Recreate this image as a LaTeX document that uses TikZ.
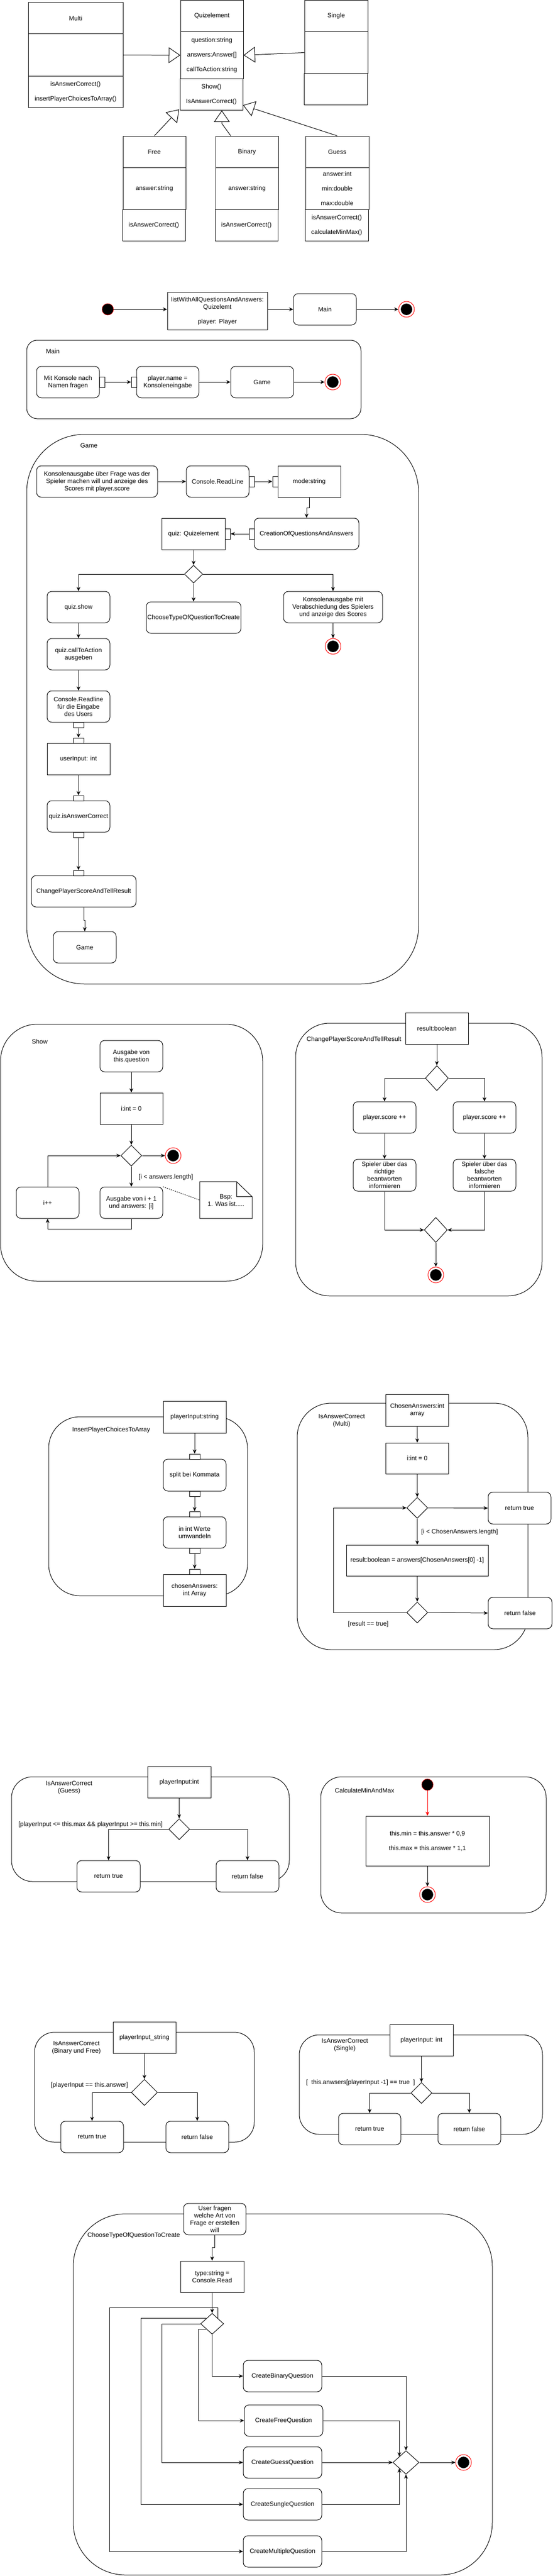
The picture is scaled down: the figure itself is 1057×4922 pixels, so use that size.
\documentclass[tikz,border=0pt]{standalone}
\usepackage{fontspec}
\setmainfont{Liberation Sans}
\usetikzlibrary{arrows.meta,shapes.geometric,calc}
\newcommand\dfont{\fontsize{12}{14}\selectfont}
\tikzset{
  every node/.style={font=\dfont, inner sep=0pt, align=center},
  bxbase/.style={draw=black, line width=1pt, fill=white},
  objbox/.style={bxbase},
  actbox/.style={bxbase, rounded corners=9pt},
  pinbox/.style={bxbase, minimum width=10pt, minimum height=20pt},
  pinv/.style={bxbase, minimum width=20pt, minimum height=10pt},
  cont/.style={draw=black, line width=1pt},
  dia/.style={bxbase, shape=diamond, aspect=1},
  arr/.style={line width=1pt, -{Stealth[length=8pt,width=7pt,inset=2.5pt]}},
  ln/.style={line width=1pt},
  inh/.style={line width=1pt, -{Triangle[length=22pt,width=30pt,fill=white]}},
  startst/.style={circle, fill=black, draw=red, line width=0.6pt, minimum size=22pt},
  endo/.style={circle, draw=red, fill=white, line width=1pt, minimum size=30pt},
  endi/.style={circle, fill=black, minimum size=22pt},
  sz/.style 2 args={minimum width=#1pt, minimum height=#2pt},
}
\newcommand\myend[2]{\node[endo] (#1) at (#2) {}; \node[endi] (#1i) at (#2) {};}
\begin{document}
\begin{tikzpicture}[x=1pt,y=-1pt]
\fill[white] (0,0) rectangle (1057,4922);
\useasboundingbox (0,0) rectangle (1057,4922);

% ---------------- class diagram ----------------
\node[objbox, sz={181}{60}] (multiT) at (144.5,35) {Multi};
\node[objbox, sz={181}{80}] (multiA) at (144.5,105) {};
\node[objbox, sz={181}{60}] (multiM) at (144.5,175) {isAnswerCorrect()\\[14pt]insertPlayerChoicesToArray()};
\node[objbox, sz={120}{60}] (quizT) at (405,30.5) {Quizelement};
\node[objbox, sz={120}{90}] (quizA) at (405,105.5) {question:string\\[14pt]answers:Answer[]\\[14pt]callToAction:string};
\node[objbox, sz={120}{60}] (quizM) at (404,180.5) {Show()\\[14pt]IsAnswerCorrect()};
\node[objbox, sz={121}{60}] (singleT) at (642.5,30.5) {Single};
\node[objbox, sz={121}{80}] (singleA) at (642.5,100.5) {};
\node[objbox, sz={121}{60}] (singleM) at (641.5,170.5) {};
\node[objbox, sz={120}{60}] (freeT) at (295,290) {Free};
\node[objbox, sz={120}{80}] (freeA) at (295,360) {answer:string};
\node[objbox, sz={120}{60}] (freeM) at (294,430) {isAnswerCorrect()};
\node[objbox, sz={120}{60}] (binT) at (472,290) {Binary};
\node[objbox, sz={120}{80}] (binA) at (472,360) {answer:string};
\node[objbox, sz={120}{60}] (binM) at (471,430) {isAnswerCorrect()};
\node[objbox, sz={121}{60}] (guessT) at (644.5,290) {Guess};
\node[objbox, sz={121}{80}] (guessA) at (644.5,360) {answer:int\\[14pt]min:double\\[14pt]max:double};
\node[objbox, sz={121}{60}] (guessM) at (643.5,430) {isAnswerCorrect()\\[14pt]calculateMinMax()};
\draw[inh] (multiA.east) -- (quizA.west);
\draw[inh] (singleA.west) -- (quizA.east);
\draw[inh] (freeT.north) -- ([xshift=-1pt,yshift=2pt]quizM.south west);
\draw[inh] ([xshift=-31pt]binT.north) -- ([xshift=20pt,yshift=-25pt]quizM.south) -- ([xshift=20pt]quizM.south);
\draw[inh] (guessT.north) -- ([yshift=10pt]quizM.south east);

% ---------------- top activity ----------------
\node[startst] (st1) at (206,591) {};
\node[objbox, sz={191}{72}] (list) at (415.5,594) {listWithAllQuestionsAndAnswers:\\Quizelemt\\[14pt]player: Player};
\node[actbox, sz={120}{60}] (mainb) at (621,591) {Main};
\myend{end1}{777,591}
\draw[arr] (st1) -- (st1 -| list.west);
\draw[arr] (list.east |- mainb) -- (mainb.west);
\draw[arr] (mainb.east) -- (end1.west);

% ---------------- Main ----------------
\node[cont, rounded corners=20pt, sz={639}{150}] (mainC) at (370.5,725) {};
\node (mainL) at (101,671) {Main};
\node[actbox, sz={120}{60}] (mk) at (130,730) {Mit Konsole nach\\Namen fragen};
\node[actbox, sz={119}{60}] (pn) at (320.5,730) {player.name =\\Konsoleneingabe};
\node[pinbox] (mkp) at (195,730) {};
\node[pinbox] (pnp) at (256,730) {};
\node[actbox, sz={120}{60}] (gm) at (501,730) {Game};
\myend{end2}{636,730}
\draw[arr] (mkp.east) -- (pnp.west);
\draw[arr] (pn.east) -- (gm.west);
\draw[arr] (gm.east) -- (end2.west);

% ---------------- Game ----------------
\node[cont, rounded corners=110pt, sz={749}{1050}] (gameC) at (425.5,1355) {};
\node (gameL) at (170,851) {Game};
\node[actbox, sz={231}{60}] (k1) at (185.5,920) {Konsolenausgabe über Frage was der\\Spieler machen will und anzeige des\\Scores mit player.score};
\node[actbox, sz={120}{60}] (crl) at (416,920) {Console.ReadLine};
\node[pinbox] (crlp) at (481,920) {};
\node[objbox, sz={120}{60}] (ms) at (591,920) {mode:string};
\node[pinbox] (msp) at (526,920) {};
\draw[arr] (k1.east) -- (crl.west);
\draw[arr] (crlp.east) -- (msp.west);
\node[actbox, sz={200}{60}] (coq) at (586,1020) {CreationOfQuestionsAndAnswers};
\node[pinbox] (coqp) at (481,1020) {};
\node[objbox, sz={121}{60}] (qz) at (370,1020) {quiz: Quizelement};
\node[pinbox] (qzp) at (435.5,1020) {};
\draw[arr] (ms.south) -- ++(0,20) -| (coq.north);
\draw[arr] (coqp.west) -- (qzp.east);
\node[dia, sz={35}{34}] (d1) at (370,1097) {};
\draw[arr] (qz.south) -- (d1.north);
\node[actbox, sz={120}{60}] (qs) at (150,1160) {quiz.show};
\node[actbox, sz={181}{60}] (ct) at (370,1180) {ChooseTypeOfQuestionToCreate};
\node[actbox, sz={189}{60}] (kv) at (636.5,1160) {Konsolenausgabe mit\\Verabschiedung des Spielers\\und anzeige des Scores};
\draw[arr] (d1.west) -| (qs.north);
\draw[arr] (d1.east) -| (kv.north);
\draw[arr] (d1.south) -- (ct.north);
\myend{end3}{636.5,1235}
\draw[arr] (kv.south) -- (end3.north);
\node[actbox, sz={120}{60}] (cta) at (150,1250) {quiz.callToAction\\ausgeben};
\draw[arr] (qs.south) -- (cta.north);
\node[actbox, sz={120}{60}] (crd) at (150,1350) {Console.Readline\\für die Eingabe\\des Users};
\draw[arr] (cta.south) -- (crd.north);
\node[pinv] (crdp) at (150,1385) {};
\node[objbox, sz={120}{60}] (ui) at (150,1450) {userInput: int};
\node[pinv] (uip) at (150,1415) {};
\draw[arr] (crdp.south) -- (uip.north);
\node[actbox, sz={120}{60}] (iac) at (150,1560) {quiz.isAnswerCorrect};
\node[pinv] (iacpi) at (150,1525) {};
\node[pinv] (iacpo) at (150,1595) {};
\draw[arr] (ui.south) -- (iacpi.north);
\node[actbox, sz={200}{60}] (cps) at (160,1703) {ChangePlayerScoreAndTellResult};
\node[pinv] (cpsp) at (150,1668) {};
\draw[arr] (iacpo.south) -- (cpsp.north);
\node[actbox, sz={120}{60}] (gm2) at (162,1810) {Game};
\draw[arr] (cps.south) -- ++(0,25) -| (gm2.north);

% ---------------- Show ----------------
\node[cont, rounded corners=70pt, sz={501}{491}] (showC) at (251.5,2202.5) {};
\node (showL) at (76,1990) {Show};
\node[actbox, sz={120}{60}] (av) at (251,2018) {Ausgabe von\\this.question};
\node[objbox, sz={120}{60}] (i0) at (251,2118) {i:int = 0};
\node[dia, sz={40}{40}] (d2) at (251,2208) {};
\myend{end4}{331,2208}
\node[actbox, sz={120}{60}] (aa) at (251,2298) {Ausgabe von i + 1\\und answers: [i]};
\node[actbox, sz={120}{60}] (ipp) at (91,2298) {i++};
\node[anchor=west] (lab1) at (265,2249) {[i < answers.length]};
\draw[arr] (av.south) -- (i0.north);
\draw[arr] (i0.south) -- (d2.north);
\draw[arr] (d2.east) -- (end4.west);
\draw[arr] (d2.south) -- (aa.north);
\draw[arr] (aa.south) -- ++(0,20) -| (ipp.south);
\draw[arr] (ipp.north) |- (d2.west);
\node[sz={100}{70}] (note) at (432,2293) {Bsp:\\1. Was ist.....};
\draw[ln] (note.north west) -- ([xshift=-30pt]note.north east) -- ([yshift=-29pt]note.north east) -- (note.south east) -- (note.south west) -- cycle;
\draw[ln] ([xshift=-30pt]note.north east) -- ++(0,29) -- ++(30,0);
\draw[ln, dash pattern=on 2pt off 2pt] (aa.north east) -- (note.west);

% ---------------- ChangePlayerScoreAndTellResult ----------------
\node[cont, rounded corners=65pt, sz={471}{521}] (chgC) at (800.5,2215.5) {};
\node[anchor=west] (chgL) at (586,1986) {ChangePlayerScoreAndTellResult};
\node[objbox, sz={120}{60}] (rb) at (835,1965) {result:boolean};
\node[dia, sz={44}{48}] (d3) at (835,2060) {};
\node[actbox, sz={120}{60}] (ps1) at (735,2135) {player.score ++};
\node[actbox, sz={120}{60}] (ps2) at (926,2135) {player.score ++};
\node[actbox, sz={120}{61}] (sp1) at (735,2245.5) {Spieler über das\\richtige\\beantworten\\informieren};
\node[actbox, sz={120}{61}] (sp2) at (926,2245.5) {Spieler über das\\falsche\\beantworten\\informieren};
\node[dia, sz={44}{48}] (d4) at (833,2350) {};
\myend{end5}{833,2436}
\draw[arr] (rb.south) -- (d3.north);
\draw[arr] (d3.west) -| (ps1.north);
\draw[arr] (d3.east) -| (ps2.north);
\draw[arr] (ps1.south) -- (sp1.north);
\draw[arr] (ps2.south) -- (sp2.north);
\draw[arr] (sp1.south) |- (d4.west);
\draw[arr] (sp2.south) |- (d4.east);
\draw[arr] (d4.south) -- (end5.north);

% ---------------- InsertPlayerChoicesToArray ----------------
\node[cont, rounded corners=60pt, sz={380}{342}] (insC) at (283,2878) {};
\node[anchor=west] (insL) at (138,2732) {InsertPlayerChoicesToArray};
\node[objbox, sz={120}{61}] (pis) at (372,2707.5) {playerInput:string};
\node[actbox, sz={120}{61}] (sbk) at (372,2818.5) {split bei Kommata};
\node[pinv] (sbkp1) at (372,2783) {};
\node[pinv] (sbkp2) at (372,2854) {};
\node[actbox, sz={120}{60}] (iiw) at (372,2928) {in int Werte\\umwandeln};
\node[pinv] (iiwp1) at (372,2893) {};
\node[pinv] (iiwp2) at (372,2963) {};
\node[objbox, sz={120}{61}] (ca) at (372,3038.5) {chosenAnswers:\\int Array};
\node[pinv] (cap) at (372,3003) {};
\draw[arr] (pis.south) -- (sbkp1.north);
\draw[arr] (sbkp2.south) -- (iiwp1.north);
\draw[arr] (iiwp2.south) -- (cap.north);

% ---------------- IsAnswerCorrect (Multi) ----------------
\node[cont, rounded corners=65pt, sz={441}{471}] (mulC) at (788.5,2916.5) {};
\node (mulL) at (653,2715) {IsAnswerCorrect\\(Multi)};
\node[objbox, sz={120}{61}] (cha) at (797.5,2694.5) {ChosenAnswers:int\\array};
\node[objbox, sz={120}{59}] (mi0) at (797.5,2786.5) {i:int = 0};
\node[dia, sz={40}{40}] (d5) at (797.5,2881) {};
\node[actbox, sz={120}{61}] (rt1) at (993,2881.5) {return true};
\node[objbox, sz={271}{59}] (rbo) at (797.5,2981.5) {result:boolean = answers[ChosenAnswers[0] -1]};
\node[dia, sz={40}{40}] (d6) at (797.5,3081) {};
\node[actbox, sz={122}{60}] (rf1) at (994,3082) {return false};
\node[anchor=west] (lab2) at (805,2927) {[i < ChosenAnswers.length]};
\node[anchor=west] (lab3) at (665,3103) {[result == true]};
\draw[arr] (cha.south) -- (mi0.north);
\draw[arr] (mi0.south) -- (d5.north);
\draw[arr] (d5.east) -- (rt1.west);
\draw[arr] (d5.south) -- (rbo.north);
\draw[arr] (rbo.south) -- (d6.north);
\draw[arr] (d6.east) -- (rf1.west);
\draw[arr] (d6.west) -- ++(-140,0) |- (d5.west);

% ---------------- IsAnswerCorrect (Guess) ----------------
\node[cont, rounded corners=40pt, sz={531}{200}] (gueC) at (287.5,3495) {};
\node (gueL) at (132,3416) {IsAnswerCorrect\\(Guess)};
\node[objbox, sz={121}{60}] (pii) at (342.5,3405) {playerInput:int};
\node[dia, sz={40}{40}] (d7) at (342.5,3495) {};
\node[anchor=east] (lab4) at (311,3486) {[playerInput <= this.max \&\& playerInput >= this.min]};
\node[actbox, sz={121}{60}] (rtg) at (207.5,3585) {return true};
\node[actbox, sz={120}{60}] (rfg) at (473,3585) {return false};
\draw[arr] (pii.south) -- (d7.north);
\draw[arr] (d7.west) -| (rtg.north);
\draw[arr] (d7.east) -| (rfg.north);

% ---------------- CalculateMinAndMax ----------------
\node[cont, rounded corners=40pt, sz={431}{260}] (calC) at (828.5,3525) {};
\node[anchor=west] (calL) at (640,3421) {CalculateMinAndMax};
\node[startst] (st2) at (817,3410) {};
\node[objbox, sz={236}{95}] (cmb) at (817,3517.5) {this.min = this.answer * 0,9\\[14pt]this.max = this.answer * 1,1};
\myend{end6}{817,3620}
\draw[arr, red] (st2.south) -- (cmb.north);
\draw[arr] (cmb.south) -- (end6.north);

% ---------------- IsAnswerCorrect (Binary und Free) ----------------
\node[cont, rounded corners=38pt, sz={420}{210}] (bfC) at (276,3988) {};
\node (bfL) at (146,3913) {IsAnswerCorrect\\(Binary und Free)};
\node[objbox, sz={120}{60}] (pis2) at (276,3893) {playerInput\_string};
\node[dia, sz={50}{50}] (d8) at (276,3998) {};
\node[anchor=east] (lab5) at (245,3984) {[playerInput == this.answer]};
\node[actbox, sz={120}{60}] (rtb) at (176,4083) {return true};
\node[actbox, sz={120}{60}] (rfb) at (377,4083) {return false};
\draw[arr] (pis2.south) -- (d8.north);
\draw[arr] (d8.west) -| (rtb.north);
\draw[arr] (d8.east) -| (rfb.north);

% ---------------- IsAnswerCorrect (Single) ----------------
\node[cont, rounded corners=38pt, sz={465}{190}] (siC) at (804.5,3983) {};
\node (siL) at (659,3907.5) {IsAnswerCorrect\\(Single)};
\node[objbox, sz={121}{60}] (pis3) at (805.5,3898) {playerInput: int};
\node[dia, sz={40}{40}] (d9) at (805.5,3999) {};
\node[anchor=west] (lab6) at (585,3979) {[\ \ this.anwsers[playerInput -1] == true\ \ ]};
\node[actbox, sz={119}{60}] (rts) at (706.5,4068) {return true};
\node[actbox, sz={120}{60}] (rfs) at (897,4068) {return false};
\draw[arr] (pis3.south) -- (d9.north);
\draw[arr] (d9.west) -| (rts.north);
\draw[arr] (d9.east) -| (rfs.north);

% ---------------- ChooseTypeOfQuestionToCreate ----------------
\node[cont, rounded corners=100pt, sz={801}{690}] (chC) at (540.5,4575) {};
\node[anchor=west] (chL) at (167,4271) {ChooseTypeOfQuestionToCreate};
\node[actbox, sz={119}{60}] (uf) at (410.5,4240) {User fragen\\welche Art von\\Frage er erstellen\\will};
\node[objbox, sz={121}{60}] (ts) at (405.5,4350) {type:string =\\Console.Read};
\node[dia, sz={44}{40}] (d10) at (405.5,4440) {};
\node[actbox, sz={150}{60}] (cb) at (540,4540) {CreateBinaryQuestion};
\node[actbox, sz={150}{60}] (cf) at (542,4625) {CreateFreeQuestion};
\node[actbox, sz={150}{60}] (cg) at (540,4705) {CreateGuessQuestion};
\node[actbox, sz={150}{60}] (cs) at (540,4785) {CreateSungleQuestion};
\node[actbox, sz={150}{60}] (cm) at (540,4875) {CreateMultipleQuestion};
\node[dia, sz={50}{45}] (d11) at (776,4705) {};
\myend{end7}{886,4705}
\draw[arr] (uf.south) -- ++(0,24) -| (ts.north);
\draw[arr] (ts.south) -- (d10.north);
\draw[arr] (d10.south) |- (cb.west);
\draw[arr] (d10.south west) -- ++(-15,0) |- (cf.west);
\draw[arr] (d10.west) -- ++(-74,0) |- (cg.west);
\draw[arr] (d10.north west) -- ++(-125,0) |- (cs.west);
\draw[arr] (d10.north east) -- ++(0,-20) -- ++(-207.5,0) |- (cm.west);
\draw[arr] (cb.east) -| (d11.north);
\draw[arr] (cf.east) -| (d11.north west);
\draw[arr] (cg.east) -- (d11.west);
\draw[arr] (cs.east) -| (d11.south west);
\draw[arr] (cm.east) -| (d11.south);
\draw[arr] (d11.east) -- (end7.west);
\end{tikzpicture}
\end{document}
